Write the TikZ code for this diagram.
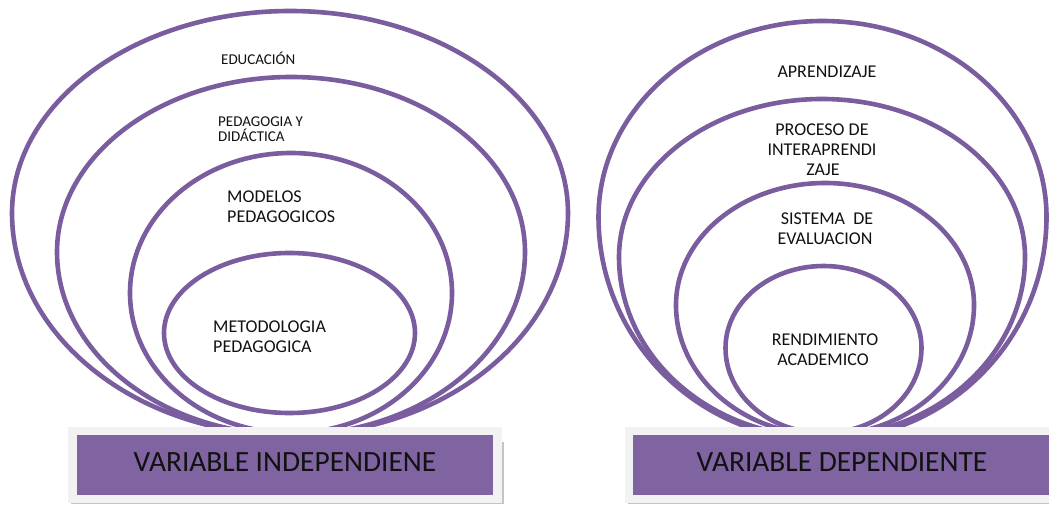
\documentclass[tikz,border=0pt]{standalone}
\usepackage{fontspec}
\setmainfont{Carlito}
\definecolor{ringc}{HTML}{7A5D9E}
\definecolor{bannerc}{HTML}{8064A2}
\definecolor{framec}{HTML}{F2F2F2}
\definecolor{shadowc}{HTML}{C4C4C4}
\definecolor{txtc}{HTML}{111111}
\tikzset{
  ring/.style={draw=ringc, line width=4.6pt},
  smalllbl/.style={inner sep=0pt, text=txtc, font=\fontsize{15}{15}\selectfont},
  biglbl/.style={inner sep=0pt, text=txtc, font=\fontsize{18}{18}\selectfont},
  bannertxt/.style={inner sep=0pt, text=txtc, font=\fontsize{29.4}{30}\selectfont},
  frame/.style={fill=framec, draw=none},
  bannerbox/.style={fill=bannerc, draw=none}
}
% egg: centre x, centre y, x radius, top y radius, bottom y radius
\newcommand{\eggring}[5]{%
  \draw[ring] (#1+#3,#2) arc[start angle=0,end angle=180,x radius=#3,y radius=#4]
    arc[start angle=180,end angle=360,x radius=#3,y radius=#5] -- cycle;}
\begin{document}
\begin{tikzpicture}[x=1pt,y=1pt]
\useasboundingbox (0,0) rectangle (1049,504);
\clip (0,0) rectangle (1049,504);
\fill[white] (0,0) rectangle (1049,504);
% left group
\eggring{290}{291}{278}{202}{222}
\eggring{291}{252}{234}{175}{183}
\eggring{291}{211}{161}{140}{140}
\eggring{289.5}{171}{125.5}{80}{80}
% right group
\eggring{822.5}{287}{224}{196}{223}
\eggring{822}{247}{203}{158}{180}
\eggring{825}{199}{149}{122}{130}
\eggring{823.5}{156}{98}{82}{85}
% left labels
\node[smalllbl, anchor=base west] (edu) at (221,439) {EDUCACIÓN};
\node[smalllbl, anchor=base west] (ped1) at (218,377) {PEDAGOGIA Y};
\node[smalllbl, anchor=base west] (ped2) at (218,362) {DIDÁCTICA};
\node[biglbl, anchor=base west] (mod1) at (227,301) {MODELOS};
\node[biglbl, anchor=base west] (mod2) at (227,281) {PEDAGOGICOS};
\node[biglbl, anchor=base west] (met1) at (213,172) {METODOLOGIA};
\node[biglbl, anchor=base west] (met2) at (213,152) {PEDAGOGICA};
% right labels
\node[biglbl, anchor=base] (apr) at (827,426) {APRENDIZAJE};
\node[biglbl, anchor=base] (pro1) at (822,368) {PROCESO DE};
\node[biglbl, anchor=base] (pro2) at (822,348) {INTERAPRENDI};
\node[biglbl, anchor=base] (pro3) at (823,328) {ZAJE};
\node[biglbl, anchor=base] (sis1) at (827,279) {SISTEMA~~DE};
\node[biglbl, anchor=base] (sis2) at (825,259) {EVALUACION};
\node[biglbl, anchor=base] (ren1) at (825,159) {RENDIMIENTO};
\node[biglbl, anchor=base] (ren2) at (823,139) {ACADEMICO};
% left banner
\fill[shadowc] (71,0) rectangle (504,62);
\fill[frame] (68,1.5) rectangle (502,77);
\fill[bannerbox] (77,9) rectangle (493,69);
\node[bannertxt, anchor=base] (vi) at (285,32.3) {VARIABLE INDEPENDIENE};
% right banner
\fill[shadowc] (628,0) rectangle (1049,62);
\fill[frame] (625,1.5) rectangle (1049,77);
\fill[bannerbox] (633,9) rectangle (1049,69);
\node[bannertxt, anchor=base] (vd) at (842,32.3) {VARIABLE DEPENDIENTE};
\end{tikzpicture}
\end{document}
